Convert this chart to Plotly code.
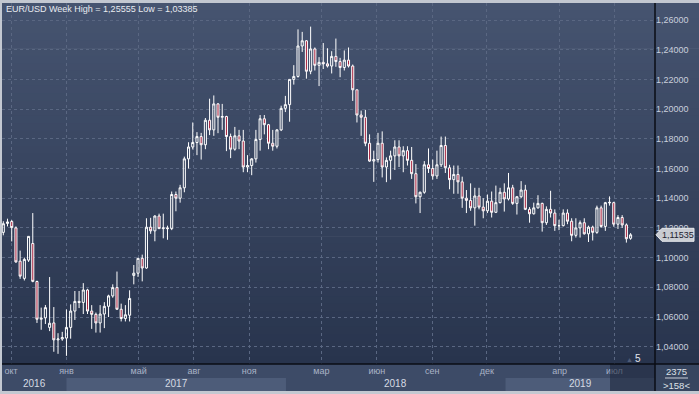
import pandas as pd
import plotly.graph_objects as go

# ---------------- data (weekly EUR/USD) ----------------
week_start = "2016-09-18"

opens = [
    1.1170, 1.1230, 1.1243, 1.1200, 1.0976, 1.0860, 1.0983, 1.1095, 1.0839, 1.0585,
    1.0594, 1.0530, 1.0560, 1.0446, 1.0452, 1.0458, 1.0530, 1.0640, 1.0705, 1.0698,
    1.0782, 1.0640, 1.0618, 1.0560, 1.0620, 1.0672, 1.0742, 1.0798, 1.0652, 1.0590,
    1.0612, 1.0880, 1.0895, 1.0995, 1.0930, 1.1205, 1.1180, 1.1280, 1.1195, 1.1200,
    1.1195, 1.1425, 1.1400, 1.1470, 1.1665, 1.1745, 1.1775, 1.1815, 1.1760, 1.1925,
    1.1860, 1.2035, 1.1945, 1.1950, 1.1815, 1.1730, 1.1820, 1.1785, 1.1610, 1.1620,
    1.1665, 1.1795, 1.1935, 1.1895, 1.1770, 1.1750, 1.1860, 1.2005, 1.2030, 1.2200,
    1.2220, 1.2425, 1.2460, 1.2255, 1.2405, 1.2295, 1.2315, 1.2305, 1.2290, 1.2355,
    1.2320, 1.2280, 1.2330, 1.2290, 1.2130, 1.1960, 1.1945, 1.1770, 1.1650, 1.1660,
    1.1770, 1.1610, 1.1655, 1.1685, 1.1745, 1.1685, 1.1720, 1.1655, 1.1565, 1.1410,
    1.1440, 1.1625, 1.1600, 1.1550, 1.1625, 1.1755, 1.1605, 1.1525, 1.1560, 1.1510,
    1.1400, 1.1385, 1.1335, 1.1415, 1.1340, 1.1315, 1.1380, 1.1305, 1.1370, 1.1440,
    1.1395, 1.1470, 1.1365, 1.1410, 1.1455, 1.1325, 1.1295, 1.1335, 1.1365, 1.1235,
    1.1325, 1.1300, 1.1215, 1.1215, 1.1300, 1.1245, 1.1150, 1.1200, 1.1235, 1.1160,
    1.1205, 1.1170, 1.1335, 1.1210, 1.1368, 1.1370, 1.1225, 1.1270, 1.1220, 1.1130,
]
highs = [
    1.1245, 1.1262, 1.1253, 1.1210, 1.1047, 1.1000, 1.1145, 1.1300, 1.0845, 1.0663,
    1.0681, 1.0869, 1.0667, 1.0491, 1.0500, 1.0651, 1.0685, 1.0775, 1.0775, 1.0828,
    1.0790, 1.0680, 1.0630, 1.0680, 1.0700, 1.0750, 1.0820, 1.0906, 1.0690, 1.0680,
    1.0780, 1.0950, 1.0995, 1.1020, 1.1265, 1.1268, 1.1285, 1.1296, 1.1296, 1.1215,
    1.1445, 1.1445, 1.1490, 1.1680, 1.1777, 1.1910, 1.1845, 1.1840, 1.1940, 1.2070,
    1.2092, 1.2040, 1.2035, 1.1955, 1.1835, 1.1880, 1.1860, 1.1860, 1.1690, 1.1670,
    1.1860, 1.1960, 1.1960, 1.1900, 1.1860, 1.1865, 1.2023, 1.2089, 1.2200, 1.2296,
    1.2537, 1.2520, 1.2465, 1.25555, 1.2415, 1.2350, 1.2445, 1.2410, 1.2390, 1.2475,
    1.2345, 1.2395, 1.2415, 1.2300, 1.2130, 1.1990, 1.1995, 1.1830, 1.1720, 1.1840,
    1.1850, 1.1675, 1.1720, 1.1790, 1.1790, 1.1750, 1.1750, 1.1745, 1.1630, 1.1445,
    1.1650, 1.1735, 1.1660, 1.1720, 1.1815, 1.1815, 1.1625, 1.1620, 1.1620, 1.1545,
    1.1455, 1.1500, 1.1470, 1.1470, 1.1400, 1.1425, 1.1445, 1.1485, 1.1470, 1.1500,
    1.1570, 1.1490, 1.1415, 1.1515, 1.1490, 1.1340, 1.1370, 1.1420, 1.1370, 1.1345,
    1.1450, 1.1325, 1.1255, 1.1325, 1.1325, 1.1265, 1.1265, 1.1250, 1.1265, 1.1215,
    1.1215, 1.1350, 1.1350, 1.1375, 1.1412, 1.1376, 1.1286, 1.1286, 1.1230, 1.1165,
]
lows = [
    1.1150, 1.1210, 1.1109, 1.0965, 1.0857, 1.0846, 1.0971, 1.0834, 1.0560, 1.0514,
    1.0553, 1.0505, 1.0366, 1.0352, 1.0440, 1.03385, 1.0454, 1.0580, 1.0660, 1.0620,
    1.0620, 1.0520, 1.0495, 1.0495, 1.0525, 1.0600, 1.0730, 1.0650, 1.0570, 1.0570,
    1.0570, 1.0820, 1.0870, 1.0840, 1.0925, 1.1160, 1.1110, 1.1195, 1.1130, 1.1120,
    1.1185, 1.1312, 1.1370, 1.1440, 1.1600, 1.1728, 1.1690, 1.1660, 1.1730, 1.1825,
    1.1820, 1.1838, 1.1860, 1.1717, 1.1670, 1.1720, 1.1730, 1.1575, 1.1575, 1.1555,
    1.1640, 1.1720, 1.1830, 1.1730, 1.1720, 1.1735, 1.1852, 1.1980, 1.1915, 1.2165,
    1.2212, 1.2385, 1.2205, 1.2235, 1.2260, 1.2155, 1.2270, 1.2280, 1.2240, 1.2285,
    1.2215, 1.2260, 1.2280, 1.2055, 1.1910, 1.1820, 1.1750, 1.1645, 1.1510, 1.1640,
    1.1540, 1.1508, 1.1525, 1.1590, 1.1610, 1.1575, 1.1620, 1.1530, 1.1365, 1.1300,
    1.1430, 1.1570, 1.1525, 1.1530, 1.1610, 1.1570, 1.1460, 1.1430, 1.1430, 1.1335,
    1.1300, 1.1315, 1.1215, 1.1325, 1.1265, 1.1300, 1.1270, 1.1300, 1.1365, 1.1310,
    1.1385, 1.1355, 1.1290, 1.1400, 1.1320, 1.1235, 1.1290, 1.1330, 1.1175, 1.1220,
    1.1270, 1.1180, 1.1185, 1.1210, 1.1225, 1.1110, 1.1135, 1.1135, 1.1155, 1.1105,
    1.1115, 1.1160, 1.1200, 1.1180, 1.1350, 1.1208, 1.1193, 1.1200, 1.1101, 1.1120,
]
closes = [
    1.1228, 1.1240, 1.1202, 1.0971, 1.0875, 1.0988, 1.1143, 1.0840, 1.0585, 1.0592,
    1.0663, 1.0558, 1.0446, 1.0452, 1.0462, 1.0530, 1.0640, 1.0705, 1.0698, 1.0782,
    1.0640, 1.0618, 1.0560, 1.0620, 1.0672, 1.0742, 1.0798, 1.0652, 1.0590, 1.0615,
    1.0725, 1.0895, 1.0995, 1.0930, 1.1205, 1.1180, 1.1280, 1.1195, 1.1200, 1.1195,
    1.1425, 1.1400, 1.1470, 1.1665, 1.1745, 1.1775, 1.1815, 1.1760, 1.1925, 1.1860,
    1.2035, 1.1945, 1.1950, 1.1815, 1.1730, 1.1820, 1.1785, 1.1610, 1.1620, 1.1665,
    1.1795, 1.1935, 1.1895, 1.1770, 1.1750, 1.1860, 1.2005, 1.2030, 1.2200, 1.2220,
    1.2425, 1.2460, 1.2255, 1.2405, 1.2295, 1.2315, 1.2305, 1.2290, 1.2355, 1.2320,
    1.2280, 1.2330, 1.2290, 1.2130, 1.1960, 1.1945, 1.1770, 1.1650, 1.1660, 1.1770,
    1.1610, 1.1655, 1.1685, 1.1745, 1.1685, 1.1720, 1.1655, 1.1565, 1.1410, 1.1440,
    1.1625, 1.1600, 1.1550, 1.1625, 1.1755, 1.1605, 1.1525, 1.1560, 1.1510, 1.1400,
    1.1385, 1.1335, 1.1415, 1.1340, 1.1315, 1.1380, 1.1305, 1.1370, 1.1440, 1.1395,
    1.1470, 1.1365, 1.1410, 1.1455, 1.1325, 1.1295, 1.1335, 1.1365, 1.1235, 1.1325,
    1.1300, 1.1215, 1.1215, 1.1300, 1.1245, 1.1150, 1.1200, 1.1235, 1.1160, 1.1205,
    1.1170, 1.1335, 1.1210, 1.1370, 1.1372, 1.1225, 1.1270, 1.1220, 1.1127, 1.11535,
]

price_ticks = [1.04, 1.06, 1.08, 1.10, 1.12, 1.14, 1.16, 1.18, 1.20, 1.22, 1.24, 1.26]
month_ticks = ["2016-10-01", "2017-01-01", "2017-05-01", "2017-08-01", "2017-11-01",
               "2018-03-01", "2018-06-01", "2018-09-01", "2018-12-01", "2019-04-01",
               "2019-07-01"]
month_labels = ["окт", "янв", "май", "авг", "ноя", "мар", "июн", "сен", "дек", "апр", "июл"]
year_labels = ["2016", "2017", "2018", "2019"]
year_starts = ["2016-01-01", "2017-01-01", "2018-01-01", "2019-01-01", "2020-01-01"]
bar_count_text = "2375"
scale_text = ">158<"
bars_right_text = "5"

dates = pd.date_range(week_start, periods=len(opens), freq="7D")

# ---------------- style ----------------
X_RANGE = ["2016-09-15 20:00", "2019-09-06 14:00"]
Y_RANGE = [1.02835, 1.27145]
W, H = 699, 394
ML, MR, MT, MB = 2, 44, 3, 30
PW, PH = W - ML - MR, H - MT - MB


def px_x(px):
    return (px - ML) / PW


def px_y(py):
    return (H - MB - py) / PH


def fmt(v):
    return f"{v:.5f}".replace(".", ",")


FONT = "Liberation Sans, Arial, sans-serif"

fig = go.Figure()
fig.add_trace(go.Candlestick(
    x=dates, open=opens, high=highs, low=lows, close=closes,
    increasing=dict(line=dict(color="#ffffff", width=1), fillcolor="rgba(0,0,0,0)"),
    decreasing=dict(line=dict(color="#ffffff", width=1), fillcolor="#a8243f"),
    whiskerwidth=0, hoverinfo="skip", showlegend=False,
))

shapes = []
# vertical gradient background (plot area + right price panel)
top_rgb = (70, 84, 112)
bot_rgb = (40, 52, 77)
n_bands = 48
for i in range(n_bands):
    t = (i + 0.5) / n_bands
    c = tuple(round(top_rgb[k] + (bot_rgb[k] - top_rgb[k]) * t) for k in range(3))
    shapes.append(dict(type="rect", xref="paper", yref="paper",
                       x0=0, x1=px_x(W), y0=1 - (i + 1) / n_bands - 0.002, y1=1 - i / n_bands,
                       fillcolor=f"rgb{c}", line=dict(width=0), layer="below"))

# timeline area below the plot
shapes.append(dict(type="rect", xref="paper", yref="paper", x0=0, x1=1,
                   y0=px_y(391), y1=0, fillcolor="#3d4b67", line=dict(width=0), layer="below"))
for k, yl in enumerate(year_labels):
    if k % 2 == 1:
        shapes.append(dict(type="rect", xref="x", yref="paper",
                           x0=max(pd.Timestamp(year_starts[k]), pd.Timestamp(X_RANGE[0])),
                           x1=min(pd.Timestamp(year_starts[k + 1]), pd.Timestamp(X_RANGE[1])),
                           y0=px_y(391), y1=px_y(378),
                           fillcolor="#4d5c79", line=dict(width=0), layer="below"))
# bottom-right box
shapes.append(dict(type="rect", xref="paper", yref="paper", x0=1, x1=px_x(W),
                   y0=px_y(391), y1=0, fillcolor="#37455f", line=dict(width=0), layer="below"))
# darker scroll window at the right end of the timeline
shapes.append(dict(type="rect", xref="paper", yref="paper", x0=px_x(610), x1=1,
                   y0=px_y(391), y1=0, fillcolor="rgba(28,37,56,0.55)",
                   line=dict(width=0), layer="above"))
# black separators
shapes.append(dict(type="line", xref="paper", yref="paper", x0=0, x1=px_x(W), y0=0, y1=0,
                   line=dict(color="#0a0d14", width=1.5), layer="above"))
shapes.append(dict(type="line", xref="paper", yref="paper", x0=1, x1=1, y0=px_y(391), y1=1,
                   line=dict(color="#0a0d14", width=1.5), layer="above"))
# separator under bar count
shapes.append(dict(type="line", xref="paper", yref="paper", x0=px_x(665), x1=px_x(688),
                   y0=px_y(378), y1=px_y(378), line=dict(color="#c9ced8", width=1), layer="above"))
# current price tag
last = closes[-1]
hh = 6.5 * (Y_RANGE[1] - Y_RANGE[0]) / PH
tip, bx, rx = px_x(656), px_x(662), px_x(694)
shapes.append(dict(type="path", xref="paper", yref="y",
                   path=(f"M{tip},{last} L{bx},{last + hh} L{rx},{last + hh} "
                         f"L{rx},{last - hh} L{bx},{last - hh} Z"),
                   fillcolor="#c9ccd2", line=dict(color="#e6e8ec", width=1), layer="above"))

annotations = [
    dict(text=f"EUR/USD Week High = {fmt(max(highs))} Low = {fmt(min(lows))}",
         xref="paper", yref="paper", x=px_x(4), y=px_y(9), xanchor="left", yanchor="middle",
         showarrow=False, font=dict(family=FONT, size=9, color="#e8ebf0")),
    dict(text=fmt(last), xref="paper", yref="y", x=px_x(678), y=last,
         xanchor="center", yanchor="middle", showarrow=False,
         font=dict(family=FONT, size=9, color="#1c2230")),
    dict(text=bars_right_text, xref="paper", yref="paper", x=px_x(638), y=px_y(358),
         xanchor="center", yanchor="middle", showarrow=False,
         font=dict(family=FONT, size=10, color="#e2e6ee")),
    dict(text="▲", xref="paper", yref="paper", x=px_x(629), y=px_y(359),
         xanchor="center", yanchor="middle", showarrow=False,
         font=dict(family=FONT, size=7, color="#4f5b76")),
    dict(text=bar_count_text, xref="paper", yref="paper", x=px_x(676), y=px_y(371.5),
         xanchor="center", yanchor="middle", showarrow=False,
         font=dict(family=FONT, size=9.5, color="#dde1e8")),
    dict(text=scale_text, xref="paper", yref="paper", x=px_x(676), y=px_y(385),
         xanchor="center", yanchor="middle", showarrow=False,
         font=dict(family=FONT, size=9.5, color="#dde1e8")),
]
lo, hi = pd.Timestamp(X_RANGE[0]), pd.Timestamp(X_RANGE[1])
for k, yl in enumerate(year_labels):
    a = max(pd.Timestamp(year_starts[k]), lo)
    b = min(pd.Timestamp(year_starts[k + 1]), hi)
    annotations.append(dict(text=yl, xref="x", yref="paper", x=a + (b - a) / 2, y=px_y(383.5),
                            xanchor="center", yanchor="middle", showarrow=False,
                            font=dict(family=FONT, size=10, color="#d5dae3")))

fig.update_layout(
    width=W, height=H, autosize=False,
    margin=dict(l=ML, r=MR, t=MT, b=MB, pad=0),
    paper_bgcolor="#c3c8d1", plot_bgcolor="rgba(0,0,0,0)",
    separators=", ",
    showlegend=False, hovermode=False,
    shapes=shapes, annotations=annotations,
    xaxis=dict(type="date", range=X_RANGE, rangeslider=dict(visible=False),
               tickmode="array", tickvals=month_ticks, ticktext=month_labels,
               ticks="", showgrid=True, gridcolor="#5a6782", griddash="3px,3px", gridwidth=1,
               tickfont=dict(family=FONT, size=9, color="#aab3c6"),
               showline=False, zeroline=False, fixedrange=True),
    yaxis=dict(side="right", range=Y_RANGE, tickmode="array", tickvals=price_ticks,
               tickformat=".5f", ticks="", showgrid=True, gridcolor="#5a6782",
               griddash="3px,3px", gridwidth=1,
               tickfont=dict(family=FONT, size=9, color="#c9d0dc"),
               showline=False, zeroline=False, fixedrange=True),
)

fig.write_html(
    "out.html",
    config={"displayModeBar": False, "staticPlot": True},
    post_script="document.body.style.margin='0';document.body.style.overflow='hidden';",
)
